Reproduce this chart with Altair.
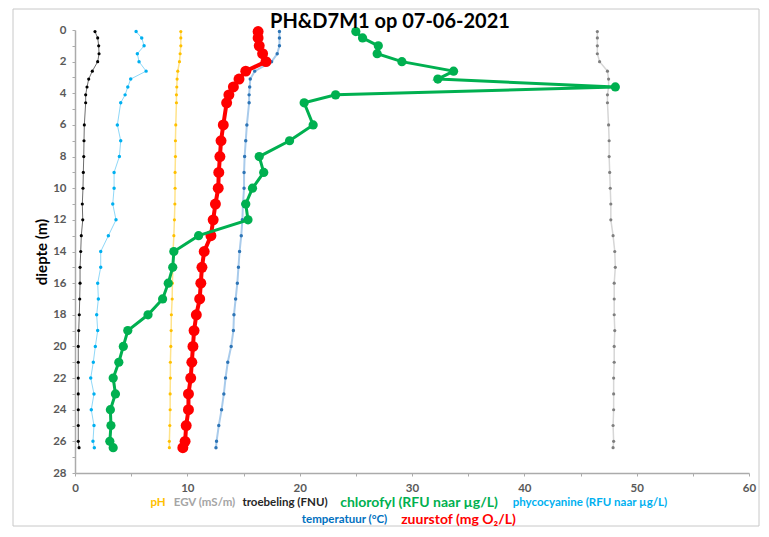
import altair as alt
import pandas as pd

# depth (m)
depth = [0.1, 0.5, 1.0, 1.5, 2.0, 2.6, 3.1, 3.6, 4.1, 4.6,
         6, 7, 8, 9, 10, 11, 12, 13, 14, 15, 16, 17, 18, 19, 20,
         21, 22, 23, 24, 25, 26, 26.4]

ph = [9.42, 9.42, 9.42, 9.36, 9.3, 9.15, 9.09, 9.06, 9.03, 9.03,
      8.97, 8.94, 8.94, 8.91, 8.91, 8.89, 8.85, 8.8, 8.73, 8.71, 8.67,
      8.65, 8.58, 8.56, 8.53, 8.49, 8.49, 8.47, 8.47, 8.44, 8.4, 8.4]

egv = [46.5, 46.5, 46.5, 46.5, 46.7, 47.4, 47.5, 47.5, 47.4, 47.4,
       47.5, 47.55, 47.55, 47.6, 47.65, 47.7, 47.7, 47.9, 48.05, 48.1, 48.0,
       48.0, 48.0, 48.05, 48.0, 48.0, 47.95, 47.95, 47.95, 47.9, 47.95, 47.9]

troebeling = [1.78, 2.02, 2.11, 2.14, 2.02, 1.54, 1.22, 1.07, 0.95, 0.95,
              0.83, 0.8, 0.78, 0.74, 0.71, 0.65, 0.69, 0.56, 0.51, 0.45, 0.45,
              0.42, 0.38, 0.33, 0.29, 0.29, 0.29, 0.29, 0.29, 0.29, 0.29, 0.36]

chlorofyl = [25.0, 25.6, 27.0, 26.9, 29.1, 33.7, 32.3, 48.1, 23.2, 20.4,
             21.2, 19.1, 16.4, 16.8, 15.8, 15.2, 15.4, 11.0, 8.8, 8.7, 8.3,
             7.8, 6.5, 4.7, 4.3, 3.9, 3.4, 3.6, 3.15, 3.2, 3.1, 3.4]

phycocyanine = [5.44, 5.94, 6.15, 5.55, 5.7, 6.33, 4.96, 4.7, 4.46, 4.07,
                3.77, 4.07, 3.95, 3.48, 3.48, 3.36, 3.65, 2.97, 2.29, 2.29, 2.02,
                2.08, 1.93, 2.02, 1.81, 1.63, 1.4, 1.69, 1.45, 1.69, 1.6, 1.72]

temperatuur = [18.2, 18.2, 18.2, 18.0, 17.5, 16.0, 15.6, 15.55, 15.5, 15.5,
               15.3, 15.2, 15.1, 15.05, 15.05, 14.95, 14.9, 14.8, 14.65, 14.55, 14.45,
               14.3, 14.15, 14.1, 13.9, 13.6, 13.4, 13.25, 13.05, 12.8, 12.6, 12.55]

zuurstof = [16.3, 16.3, 16.4, 16.7, 17.0, 15.2, 14.6, 14.1, 13.7, 13.5,
            13.2, 13.0, 12.9, 12.8, 12.75, 12.5, 12.3, 12.1, 11.5, 11.3, 11.2,
            11.1, 10.8, 10.6, 10.5, 10.4, 10.3, 10.1, 10.1, 9.9, 9.8, 9.6]

x_ticks = list(range(0, 61, 5))
y_ticks = list(range(0, 29))

title_text = "PH&D7M1 op 07-06-2021"
legend_line1 = ["pH", "EGV (mS/m)", "troebeling (FNU)",
                "chlorofyl (RFU naar µg/L)", "phycocyanine (RFU naar µg/L)"]
legend_line2 = ["temperatuur (°C)", "zuurstof (mg O₂/L)"]

FONT = "Lato"
AX_COLOR = "#ABABAB"

xscale = alt.Scale(domain=[0, 60], nice=False, zero=False)
yscale = alt.Scale(domain=[0, 28], nice=False, reverse=True)

xaxis = alt.Axis(values=x_ticks, labelExpr="datum.value % 10 === 0 ? datum.label : ''",
                 grid=False, domainColor=AX_COLOR, domainWidth=1.5, tickColor=AX_COLOR,
                 tickSize=3, labelPadding=6, labelColor="#595959", labelFont=FONT,
                 labelFontSize=11.5, labelFontWeight="bold", labelFlush=False,
                 labelOverlap=False, title=None)
yaxis = alt.Axis(values=y_ticks, labelExpr="datum.value % 2 === 0 ? datum.label : ''",
                 grid=False, domainColor=AX_COLOR, domainWidth=1.5, tickColor=AX_COLOR,
                 tickSize=3, labelPadding=6, labelColor="#595959", labelFont=FONT,
                 labelFontSize=11.5, labelFontWeight="bold", labelFlush=False,
                 labelOverlap=False, title="diepte (m)", titleFont=FONT,
                 titleFontSize=15, titleFontWeight="bold", titleColor="#000000",
                 titleX=-34, titleY=221.5, titleAngle=-90, titleBaseline="middle",
                 titleAlign="center")


def series(values, name, line_color, line_width, dot_color, dot_size):
    df = pd.DataFrame({"depth": depth, "value": values, "serie": name})
    base = alt.Chart(df).encode(
        x=alt.X("value:Q", scale=xscale, axis=xaxis),
        y=alt.Y("depth:Q", scale=yscale, axis=yaxis),
        order=alt.Order("depth:Q"),
    )
    line = base.mark_line(color=line_color, strokeWidth=line_width)
    pts = base.mark_circle(color=dot_color, size=dot_size, opacity=1)
    return [line, pts]


one = pd.DataFrame({"k": [0]})


def label(text, x, y, color, size, weight="bold"):
    return alt.Chart(one).mark_text(
        font=FONT, fontSize=size, fontWeight=weight, color=color,
        align="center", baseline="middle"
    ).encode(text=alt.value(text), x=alt.value(x), y=alt.value(y))


frame = alt.Chart(one).mark_rect(filled=False, stroke="#C8C8C8", strokeWidth=1).encode(
    x=alt.value(-62), x2=alt.value(684), y=alt.value(-21), y2=alt.value(496)
)

layers = [frame]
layers += series(troebeling, "troebeling", "#6E6E6E", 1, "#000000", 10)
layers += series(egv, "EGV", "#D6D6D6", 1.5, "#7F7F7F", 10)
layers += series(phycocyanine, "phycocyanine", "#8FD8F8", 1, "#00B0F0", 12)
layers += series(ph, "pH", "#FFE38A", 1.5, "#FFC000", 10)
layers += series(temperatuur, "temperatuur", "#A9CBEB", 2, "#2E75B6", 12)
layers += series(zuurstof, "zuurstof", "#FF0000", 4, "#FF0000", 120)
layers += series(chlorofyl, "chlorofyl", "#00B050", 3, "#00B050", 85)

layers.append(label(title_text, 315, -8, "#000000", 20))

line1_x = [83, 129.5, 210, 344, 515]
line1_colors = ["#FFC000", "#A5A5A5", "#262626", "#00B050", "#00B0F0"]
line1_sizes = [11.5, 11.5, 11.5, 14, 11.5]
for t, x, c, s in zip(legend_line1, line1_x, line1_colors, line1_sizes):
    layers.append(label(t, x, 473, c, s))

line2_x = [269.5, 383.5]
line2_colors = ["#0070C0", "#FF0000"]
line2_sizes = [11.5, 14]
for t, x, c, s in zip(legend_line2, line2_x, line2_colors, line2_sizes):
    layers.append(label(t, x, 490, c, s))

chart = alt.layer(*layers).properties(
    width=674, height=443,
    padding={"left": 67, "top": 22, "right": 12, "bottom": 55},
    autosize=alt.AutoSizeParams(type="none"),
    background="#FFFFFF",
).configure_view(stroke=None)

chart.save("out.html", embed_options={"renderer": "svg", "actions": False})
